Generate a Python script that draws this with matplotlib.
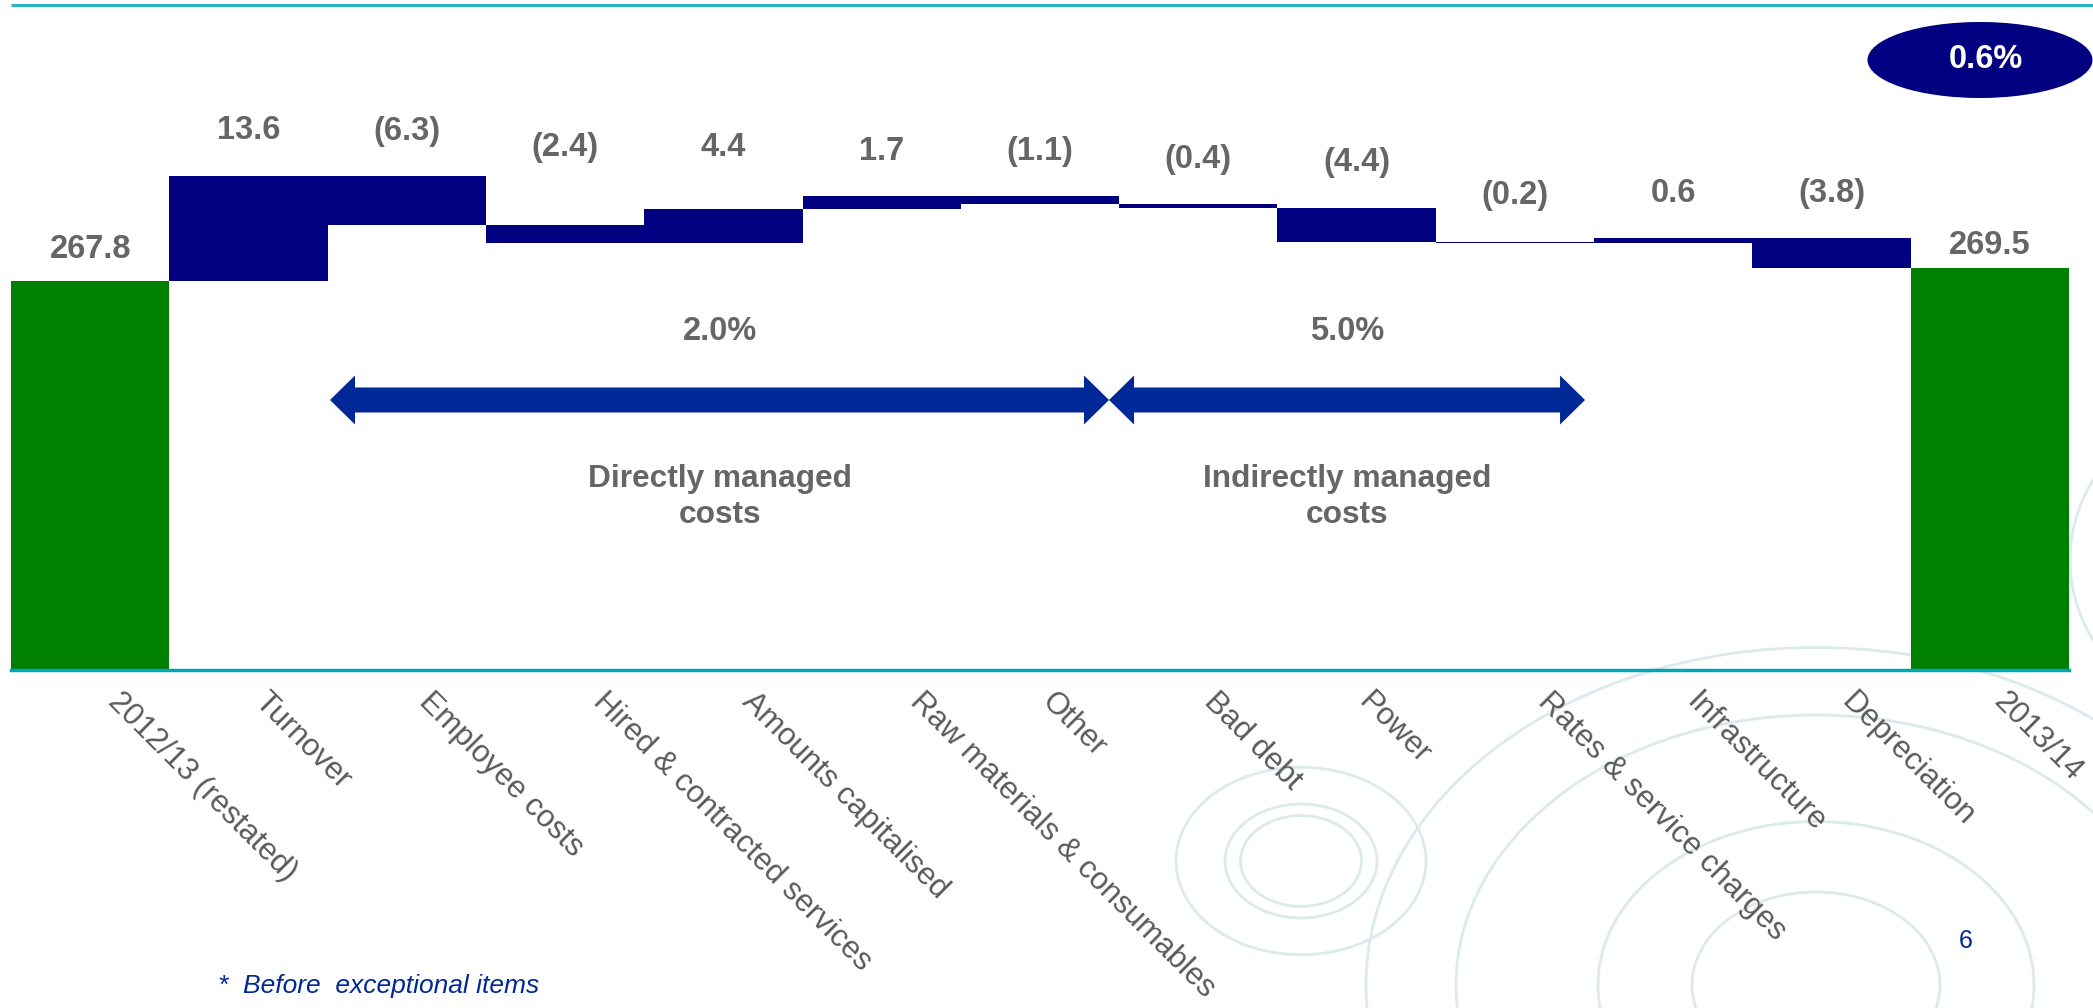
import numpy as np
import matplotlib.pyplot as plt
from matplotlib.patches import Ellipse, Polygon

plt.rcParams['font.family'] = ['Liberation Sans', 'DejaVu Sans']

# Data
categories = ["2012/13 (restated)", "Turnover", "Employee costs", "Hired & contracted services",
              "Amounts capitalised", "Raw materials & consumables", "Other", "Bad debt", "Power",
              "Rates & service charges", "Infrastructure", "Depreciation", "2013/14"]
start_total = 267.8
end_total = 269.5
changes = [13.6, -6.3, -2.4, 4.4, 1.7, -1.1, -0.4, -4.4, -0.2, 0.6, -3.8]
group_names = ["Directly managed\ncosts", "Indirectly managed\ncosts"]
group_pct = ["2.0%", "5.0%"]
total_pct = "0.6%"
footnote = "*  Before  exceptional items"
page_no = "6"

# layout
W, H = 2093, 1008
y_floor = 217.4
px_per_unit = 7.72
label_gap = [35, 49, 48, 80, 65, 48, 48, 48, 48, 49, 48, 48, 25.5]   # px, bar top -> digit centre
arrow_spans = [(1.515, 6.436), (6.436, 9.443)]
group_x = [3.98, 7.94]

grey = "#666666"
navy = "#000080"
green = "#008000"
teal = "#00a6b4"
arrow_blue = "#002896"
ring = "#dce9ed"

fig = plt.figure(figsize=(W / 100, H / 100), dpi=100)

# background decoration (figure pixel coords)
bg = fig.add_axes([0, 0, 1, 1], zorder=0)
bg.set_xlim(0, W)
bg.set_ylim(H, 0)
bg.axis("off")
for rx in [60.5, 76, 125]:
    bg.add_patch(Ellipse((1301, 861), 2 * rx, 1.5 * rx, fill=False, ec=ring, lw=2))
for rx in [124, 218, 360, 450]:
    bg.add_patch(Ellipse((1816, 985), 2 * rx, 1.5 * rx, fill=False, ec=ring, lw=2))
bg.add_patch(Ellipse((2330, 560), 520, 390, fill=False, ec=ring, lw=2))
bg.plot([11, W], [5.3, 5.3], color="#2ab4c0", lw=2.2, solid_capstyle="butt")
bg.add_patch(Ellipse((1980, 60), 225, 76, fc=navy, ec="none"))
bg.text(1986, 60, total_pct, color="white", fontsize=23.5, fontweight="bold",
        ha="center", va="center")
bg.text(218, 993, footnote, color=arrow_blue, fontsize=19, style="italic",
        ha="left", va="baseline")
bg.text(1966, 948, page_no, color=arrow_blue, fontsize=18, ha="center", va="baseline")

# main chart
ax = fig.add_axes([11 / W, (H - 670) / H, (2069 - 11) / W, 670 / H], zorder=1)
ax.patch.set_alpha(0)
ax.set_xlim(-0.5, len(categories) - 0.5)
ax.set_ylim(y_floor, y_floor + 670 / px_per_unit)

levels = start_total + np.cumsum(changes)
prev = np.concatenate([[start_total], levels[:-1]])
bottoms = np.minimum(prev, levels)
heights = np.abs(changes)

x = np.arange(len(categories))
ax.bar(x[0], start_total - y_floor, bottom=y_floor, width=1.0, color=green)
ax.bar(x[1:-1], heights, bottom=bottoms, width=1.0, color=navy)
ax.bar(x[-1], end_total - y_floor, bottom=y_floor, width=1.0, color=green)

tops = np.concatenate([[start_total], bottoms + heights, [end_total]])
all_vals = [start_total] + changes + [end_total]
for i, v in enumerate(all_vals):
    if 0 < i < len(all_vals) - 1 and v < 0:
        txt = "({:.1f})".format(-v)
    else:
        txt = "{:.1f}".format(v)
    ax.annotate(txt, xy=(x[i], tops[i]), xytext=(0, label_gap[i] - 11.7),
                textcoords="offset pixels", ha="center", va="baseline",
                fontsize=23.5, fontweight="bold", color=grey)

# category labels (longer labels sit a little further right, as in the slide)
for i, c in enumerate(categories):
    dx = 11.5 + (len(c) - 14) * 1.2
    ax.annotate(c, xy=(x[i], y_floor), xytext=(dx, -33), textcoords="offset pixels",
                rotation=-45, rotation_mode="anchor", ha="left", va="baseline",
                fontsize=22.3, color="#5a5a5a", annotation_clip=False)

# double arrows
def double_arrow(x0, x1, y, shaft, head, head_len):
    pts = [(x0, y), (x0 + head_len, y + head / 2), (x0 + head_len, y + shaft / 2),
           (x1 - head_len, y + shaft / 2), (x1 - head_len, y + head / 2), (x1, y),
           (x1 - head_len, y - head / 2), (x1 - head_len, y - shaft / 2),
           (x0 + head_len, y - shaft / 2), (x0 + head_len, y - head / 2)]
    ax.add_patch(Polygon(pts, closed=True, fc=arrow_blue, ec="none"))

arrow_y = y_floor + 270 / px_per_unit
for x0, x1 in arrow_spans:
    double_arrow(x0, x1, arrow_y, 25 / px_per_unit, 49 / px_per_unit, 25 / 158.3)

for gx, pct, name in zip(group_x, group_pct, group_names):
    ax.text(gx, y_floor + 330 / px_per_unit, pct, ha="center", va="baseline",
            fontsize=23.5, fontweight="bold", color=grey)
    ax.text(gx, y_floor + 147 / px_per_unit, name, ha="center", va="baseline",
            fontsize=22.8, fontweight="bold", color=grey, linespacing=1.26)

for s in ["top", "right", "left"]:
    ax.spines[s].set_visible(False)
ax.spines["bottom"].set_color(teal)
ax.spines["bottom"].set_linewidth(2.5)
ax.set_xticks([])
ax.set_yticks([])

fig.savefig("out.png", dpi=100)
